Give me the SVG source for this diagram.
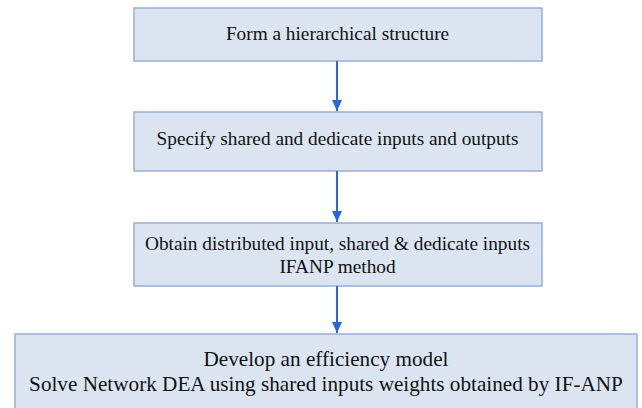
<svg xmlns="http://www.w3.org/2000/svg" width="642" height="408" viewBox="0 0 642 408">
<defs>
<style>
.box{fill:#dbe5f1;stroke:#98afd4;stroke-width:1.5}
.t{font-family:"Liberation Serif","Times New Roman",serif;font-size:19.3px;fill:#111;text-anchor:middle}
.t2{font-family:"Liberation Serif","Times New Roman",serif;font-size:21.2px;fill:#111;text-anchor:middle}
.c{stroke:#2766dc;stroke-width:2;fill:none}
</style>
<marker id="ah" markerWidth="11" markerHeight="10" refX="11" refY="5" orient="auto" markerUnits="userSpaceOnUse">
<path d="M0,0 L11,5 L0,10 Z" fill="#2766dc"/>
</marker>
</defs>
<rect width="642" height="408" fill="#fff"/>
<g id="n1"><rect class="box" x="134" y="8" width="408" height="53"/><text class="t" x="337.5" y="40">Form a hierarchical structure</text></g>
<g id="n2"><rect class="box" x="134" y="112" width="408" height="59"/><text class="t" x="337.5" y="145">Specify shared and dedicate inputs and outputs</text></g>
<g id="n3"><rect class="box" x="134" y="223" width="408" height="63"/><text class="t" x="337.5" y="250">Obtain distributed input, shared &amp; dedicate inputs</text><text class="t" x="337.5" y="273">IFANP method</text></g>
<g id="n4"><rect class="box" x="15" y="334" width="622" height="90"/><text class="t2" x="326" y="366">Develop an efficiency model</text><text class="t2" x="326" y="391">Solve Network DEA using shared inputs weights obtained by IF-ANP</text></g>
<g id="connectors">
<line class="c" x1="337" y1="61" x2="337" y2="111" marker-end="url(#ah)"/>
<line class="c" x1="337" y1="171" x2="337" y2="222" marker-end="url(#ah)"/>
<line class="c" x1="337" y1="286" x2="337" y2="333" marker-end="url(#ah)"/>
</g>
</svg>
